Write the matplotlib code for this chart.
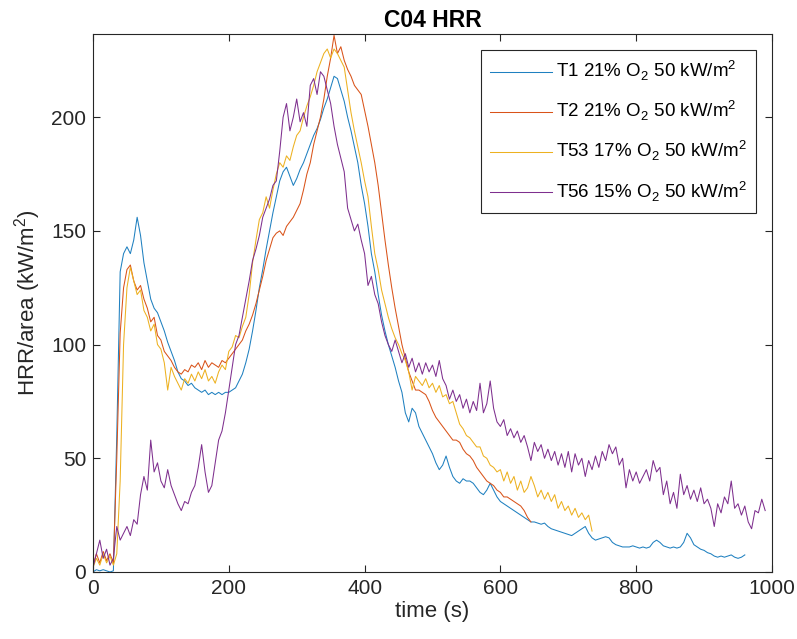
import numpy as np
import matplotlib
matplotlib.use("Agg")
from matplotlib import pyplot as plt

plt.rcParams['font.family'] = ['Liberation Sans', 'DejaVu Sans']

# HRR per area (kW/m2), one sample every 5 s
t1 = [0, 1, 0.5, 1, 0.5, 0, 0.5, 60, 132, 140, 143, 140, 146, 156, 148, 136, 128, 120, 116, 114,
      110, 106, 101, 97, 93, 88, 85, 84, 82, 83, 81, 80, 79, 80, 78, 79, 78, 79, 78, 79,
      79, 80, 81, 84, 87, 92, 98, 106, 115, 125, 133, 142, 150, 158, 165, 172, 176, 178, 174, 170,
      173, 177, 180, 184, 188, 192, 195, 199, 204, 208, 213, 218, 217, 212, 207, 200, 194, 187, 180, 170,
      162, 152, 140, 132, 122, 113, 106, 100, 95, 90, 84, 79, 70, 66, 72, 70, 64, 61, 58, 55,
      52, 48, 45, 47, 51, 46, 42, 40, 39, 41, 40, 40, 39, 37, 35, 34, 36, 39, 36, 33,
      31, 30, 29, 28, 27, 26, 25, 24, 23, 22, 22, 21.5, 21, 21.5, 20, 19, 18.5, 18, 17.5, 17,
      16.5, 16, 17, 18, 19, 20, 17, 15, 14, 14.5, 15, 15.5, 15, 13, 12, 11.5, 11, 11, 11, 11.5,
      11, 10.5, 11, 10.5, 11, 13, 14, 13, 11.5, 11, 10.5, 11, 10.5, 11, 13, 17, 15, 12, 11, 10,
      9.5, 8.5, 8, 7, 6.5, 7, 6.5, 7, 7.5, 6.5, 6, 6.5, 7.5]

t2 = [3, 8, 4, 9, 5, 8, 4, 50, 105, 125, 133, 135, 128, 124, 126, 120, 116, 110, 112, 104,
      102, 97, 95, 93, 90, 88, 87, 89, 88, 91, 90, 92, 89, 93, 90, 92, 91, 90, 93, 92,
      94, 96, 98, 100, 102, 106, 109, 113, 118, 124, 130, 137, 142, 147, 149, 150, 148, 152, 154, 156,
      159, 162, 168, 175, 180, 188, 194, 200, 208, 218, 226, 236, 228, 231, 225, 221, 218, 214, 212, 210,
      203, 196, 188, 180, 170, 158, 146, 135, 125, 116, 108, 100, 94, 88, 84, 80, 80, 79, 78, 75,
      71, 68, 66, 64, 62, 60, 58, 58, 57, 54, 52, 51, 49, 46, 44, 42, 40, 39, 38, 36,
      35, 33, 33, 32, 31, 30, 29, 27, 24, 22]

t53 = [2, 6, 3, 8, 4, 7, 3, 8, 40, 100, 125, 134, 128, 122, 124, 115, 112, 106, 109, 100,
       98, 92, 80, 90, 86, 83, 80, 85, 83, 87, 84, 88, 85, 89, 84, 86, 83, 88, 91, 89,
       97, 99, 104, 103, 108, 112, 122, 136, 146, 155, 158, 165, 160, 168, 175, 180, 178, 183, 181, 187,
       192, 194, 200, 205, 209, 214, 220, 224, 228, 230, 226, 230, 228, 225, 222, 212, 202, 194, 187, 180,
       172, 165, 152, 140, 133, 124, 118, 112, 107, 103, 100, 96, 93, 88, 80, 86, 84, 82, 85, 81,
       83, 79, 82, 77, 78, 74, 75, 70, 65, 63, 60, 59, 57, 55, 55, 51, 50, 47, 46, 44,
       45, 40, 44, 39, 42, 36, 40, 35, 37, 42, 38, 33, 36, 32, 35, 31, 34, 28, 31, 27,
       29, 25, 28, 24, 26, 23, 25, 18]

t56 = [2, 8, 14, 6, 10, 3, 6, 20, 14, 17, 20, 16, 23, 21, 34, 42, 36, 58, 44, 48,
       40, 37, 45, 38, 34, 30, 27, 31, 30, 35, 38, 46, 56, 44, 35, 38, 48, 58, 62, 70,
       80, 90, 100, 104, 112, 120, 128, 137, 142, 148, 156, 160, 164, 170, 172, 185, 200, 206, 194, 200,
       208, 198, 202, 196, 214, 217, 210, 220, 218, 212, 206, 196, 188, 182, 176, 160, 155, 150, 153, 146,
       140, 126, 130, 122, 118, 110, 104, 100, 97, 102, 97, 92, 96, 90, 94, 88, 92, 87, 92, 88,
       91, 86, 93, 85, 82, 76, 80, 75, 78, 72, 76, 70, 75, 71, 83, 70, 74, 84, 72, 66,
       64, 67, 60, 63, 59, 62, 57, 60, 55, 49, 57, 53, 56, 50, 54, 49, 53, 47, 52, 46,
       53, 44, 52, 47, 50, 42, 49, 45, 51, 46, 53, 49, 56, 52, 55, 47, 50, 37, 45, 40,
       44, 39, 42, 45, 40, 49, 44, 46, 34, 40, 30, 35, 28, 43, 34, 38, 32, 36, 31, 37,
       30, 32, 28, 20, 30, 26, 33, 30, 40, 28, 30, 25, 29, 22, 19, 27, 26, 32, 27]

labels = ['T1 21% O$_\\mathregular{2}$ 50 kW/m$^\\mathregular{2}$',
          'T2 21% O$_\\mathregular{2}$ 50 kW/m$^\\mathregular{2}$',
          'T53 17% O$_\\mathregular{2}$ 50 kW/m$^\\mathregular{2}$',
          'T56 15% O$_\\mathregular{2}$ 50 kW/m$^\\mathregular{2}$']
colors = ['#1f80c0', '#D95319', '#EDB120', '#7E2F8E']

fig = plt.figure(figsize=(7.97, 6.39), dpi=100)
ax = fig.add_axes([0.1167, 0.1049, 0.8519, 0.8419])

for vals, lab, c in zip([t1, t2, t53, t56], labels, colors):
    tt = np.arange(len(vals)) * 5
    ax.plot(tt, vals, color=c, lw=0.75, label=lab)

ax.set_xlim(0, 1000)
ax.set_ylim(0, 236.6)
ax.set_xticks([0, 200, 400, 600, 800, 1000])
ax.set_yticks([0, 50, 100, 150, 200])
ax.tick_params(direction='in', top=True, right=True, length=5, width=0.8,
               labelsize=15, colors='#262626', pad=5)
for s in ax.spines.values():
    s.set_color('#262626')
    s.set_linewidth(0.8)

ax.set_xlabel('time (s)', fontsize=16, color='#262626', labelpad=2)
ax.set_ylabel('HRR/area (kW/m$^\\mathregular{2}$)', fontsize=16, color='#262626', labelpad=6)
ax.set_title('C04 HRR', fontsize=16.5, fontweight='bold', pad=5)

leg = ax.legend(loc='upper right', fontsize=13.5, fancybox=False, framealpha=1,
                edgecolor='#262626', handlelength=3.3, handletextpad=0.2,
                labelspacing=0.85, borderaxespad=0.85, borderpad=0.5)
leg.get_frame().set_linewidth(0.8)

fig.savefig('out.png', dpi=100)
